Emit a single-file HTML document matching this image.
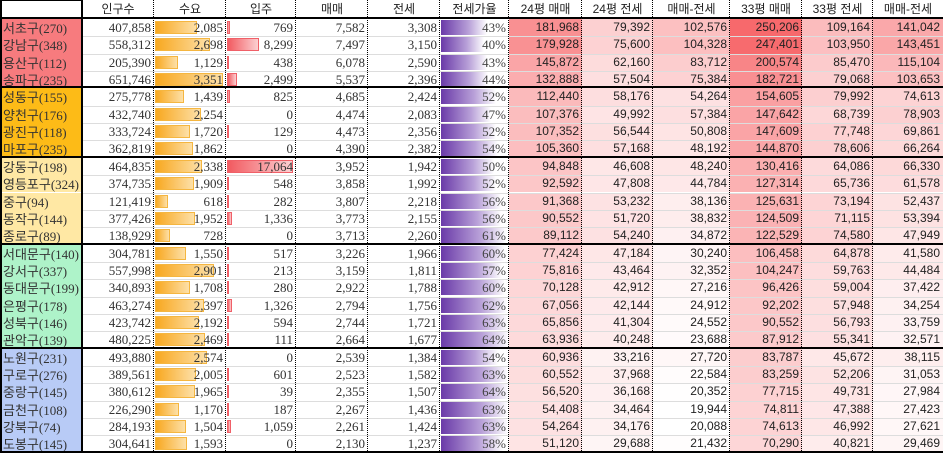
<!DOCTYPE html>
<html><head><meta charset="utf-8">
<style>
body{margin:0;background:#fff;width:943px;height:453px;overflow:hidden;position:relative;font-family:"Liberation Serif","Noto Sans CJK KR",serif;}
.c{position:absolute;box-sizing:border-box;white-space:nowrap;overflow:hidden;}
.n{text-align:right;padding-right:3px;font-size:13px;color:#333;line-height:17px;font-family:"Liberation Serif",serif;}
.s{font-family:"Liberation Sans","DejaVu Sans",sans-serif;font-size:12px;color:#222;}
.h{font-family:"Liberation Sans","Noto Sans CJK KR",sans-serif;font-size:12px;text-align:center;color:#222;line-height:18px;}
.nm{font-family:"Noto Sans CJK KR","Liberation Serif",serif;font-size:13px;color:#333;line-height:17px;padding-left:3px;}
.nm span{font-family:"Liberation Serif",serif;}
.vl{position:absolute;top:0;height:453px;border-left:1px dotted #000;width:0;}
.hl{position:absolute;left:82px;width:861px;height:0;border-top:1px solid #ddd;}
.gl{position:absolute;left:0;width:943px;height:2px;background:#000;}
.t{position:relative;}
</style></head><body>
<div id="r"></div>
<script>
var X=[0,82,154,226,296,368,440,509,582,653,730,802,873,943];
var H=["","인구수","수요","입주","매매","전세","전세가율","24평 매매","24평 전세","매매-전세","33평 매매","33평 전세","매매-전세"];
var D=[
["서초구","270",407858,2085,769,7582,3308,43,181968,79392,102576,250206,109164,141042],
["강남구","348",558312,2698,8299,7497,3150,40,179928,75600,104328,247401,103950,143451],
["용산구","112",205390,1129,438,6078,2590,43,145872,62160,83712,200574,85470,115104],
["송파구","235",651746,3351,2499,5537,2396,44,132888,57504,75384,182721,79068,103653],
["성동구","155",275778,1439,825,4685,2424,52,112440,58176,54264,154605,79992,74613],
["양천구","176",432740,2254,0,4474,2083,47,107376,49992,57384,147642,68739,78903],
["광진구","118",333724,1720,129,4473,2356,52,107352,56544,50808,147609,77748,69861],
["마포구","235",362819,1862,0,4390,2382,54,105360,57168,48192,144870,78606,66264],
["강동구","198",464835,2338,17064,3952,1942,50,94848,46608,48240,130416,64086,66330],
["영등포구","324",374735,1909,548,3858,1992,52,92592,47808,44784,127314,65736,61578],
["중구","94",121419,618,282,3807,2218,56,91368,53232,38136,125631,73194,52437],
["동작구","144",377426,1952,1336,3773,2155,56,90552,51720,38832,124509,71115,53394],
["종로구","89",138929,728,0,3713,2260,61,89112,54240,34872,122529,74580,47949],
["서대문구","140",304781,1550,517,3226,1966,60,77424,47184,30240,106458,64878,41580],
["강서구","337",557998,2901,213,3159,1811,57,75816,43464,32352,104247,59763,44484],
["동대문구","199",340893,1708,280,2922,1788,60,70128,42912,27216,96426,59004,37422],
["은평구","178",463274,2397,1326,2794,1756,62,67056,42144,24912,92202,57948,34254],
["성북구","146",423742,2192,594,2744,1721,63,65856,41304,24552,90552,56793,33759],
["관악구","139",480225,2469,111,2664,1677,64,63936,40248,23688,87912,55341,32571],
["노원구","231",493880,2574,0,2539,1384,54,60936,33216,27720,83787,45672,38115],
["구로구","276",389561,2005,601,2523,1582,63,60552,37968,22584,83259,52206,31053],
["중랑구","145",380612,1965,39,2355,1507,64,56520,36168,20352,77715,49731,27984],
["금천구","108",226290,1170,187,2267,1436,63,54408,34464,19944,74811,47388,27423],
["강북구","74",284193,1504,1059,2261,1424,63,54264,34176,20088,74613,46992,27621],
["도봉구","145",304641,1593,0,2130,1237,58,51120,29688,21432,70290,40821,29469]];
var G=[0,0,0,0,1,1,1,1,2,2,2,2,2,3,3,3,3,3,3,4,4,4,4,4,4];
var GC=["#f77b7e","#fdbb17","#ffe8a4","#aef3c9","#b8cbf6"];
var h="",RH=17.35,T=19;
function f(v){return v.toLocaleString("en-US");}
function cell(x0,x1,y,cls,inner,bg){return '<div class="c '+cls+'" style="left:'+x0+'px;top:'+y+'px;width:'+(x1-x0)+'px;height:'+RH+'px;'+(bg?'background:'+bg+';':'')+'">'+inner+'</div>';}
for(var j=1;j<13;j++)h+='<div class="c h" style="left:'+X[j]+'px;top:0;width:'+(X[j+1]-X[j])+'px;height:18px">'+H[j]+'</div>';
var mn=19944,mx=250206;
function heat(v){var t=(v-mn)/(mx-mn);t=Math.pow(t,0.85);return 'rgb('+Math.round(255-t*8)+','+Math.round(255-t*150)+','+Math.round(255-t*147)+')';}
D.forEach(function(d,i){
 var y=T+i*RH;
 h+=cell(0,82,y,"nm",d[0]+'<span>('+d[1]+')</span>',GC[G[i]]);
 h+=cell(82,154,y,"n",f(d[2]));
 var w=d[3]/3351*68;
 h+=cell(154,226,y,"n",'<div style="position:absolute;left:1px;top:2px;width:'+w+'px;height:13px;background:linear-gradient(90deg,#f8a820,#fde0a8);border:1px solid #f5b640;box-sizing:border-box"></div><span class="t">'+f(d[3])+'</span>');
 var w2=d[4]/17064*66;
 h+=cell(226,296,y,"n",(d[4]>0?'<div style="position:absolute;left:1px;top:2px;width:'+Math.max(w2,2)+'px;height:13px;background:linear-gradient(90deg,#f25a60,#fcd0d2);border:1px solid #f06068;box-sizing:border-box"></div>':'')+'<span class="t">'+f(d[4])+'</span>');
 h+=cell(296,368,y,"n",f(d[5]));
 h+=cell(368,440,y,"n",f(d[6]));
 var w3=d[7]/64*68;
 h+=cell(440,509,y,"n",'<div style="position:absolute;left:1px;top:1px;width:'+w3+'px;height:15px;background:linear-gradient(90deg,#6a3aa8,#b8a0d8 60%,#fff)"></div><span class="t" style="color:#444">'+d[7]+'%</span>');
 for(var k=8;k<14;k++)h+=cell(X[k-1],X[k],y,"n s",f(d[k]),heat(d[k]));
 if(i>0&&G[i]==G[i-1])h+='<div class="hl" style="top:'+Math.round(y)+'px"></div>';
});
for(var j=2;j<13;j++)h+='<div class="vl" style="left:'+(X[j]-1)+'px"></div>';
var gb=[0,4,8,13,19,25];
gb.forEach(function(g){h+='<div class="gl" style="top:'+(Math.round(T+g*RH)-2)+'px"></div>';});
h+='<div style="position:absolute;left:0;top:0;width:2px;height:453px;background:#000"></div>';
h+='<div style="position:absolute;left:81px;top:0;width:2px;height:453px;background:#000"></div>';
h+='<div style="position:absolute;left:0;top:0;width:82px;height:1px;background:#000"></div>';
document.getElementById("r").innerHTML=h;
</script>
</body></html>
